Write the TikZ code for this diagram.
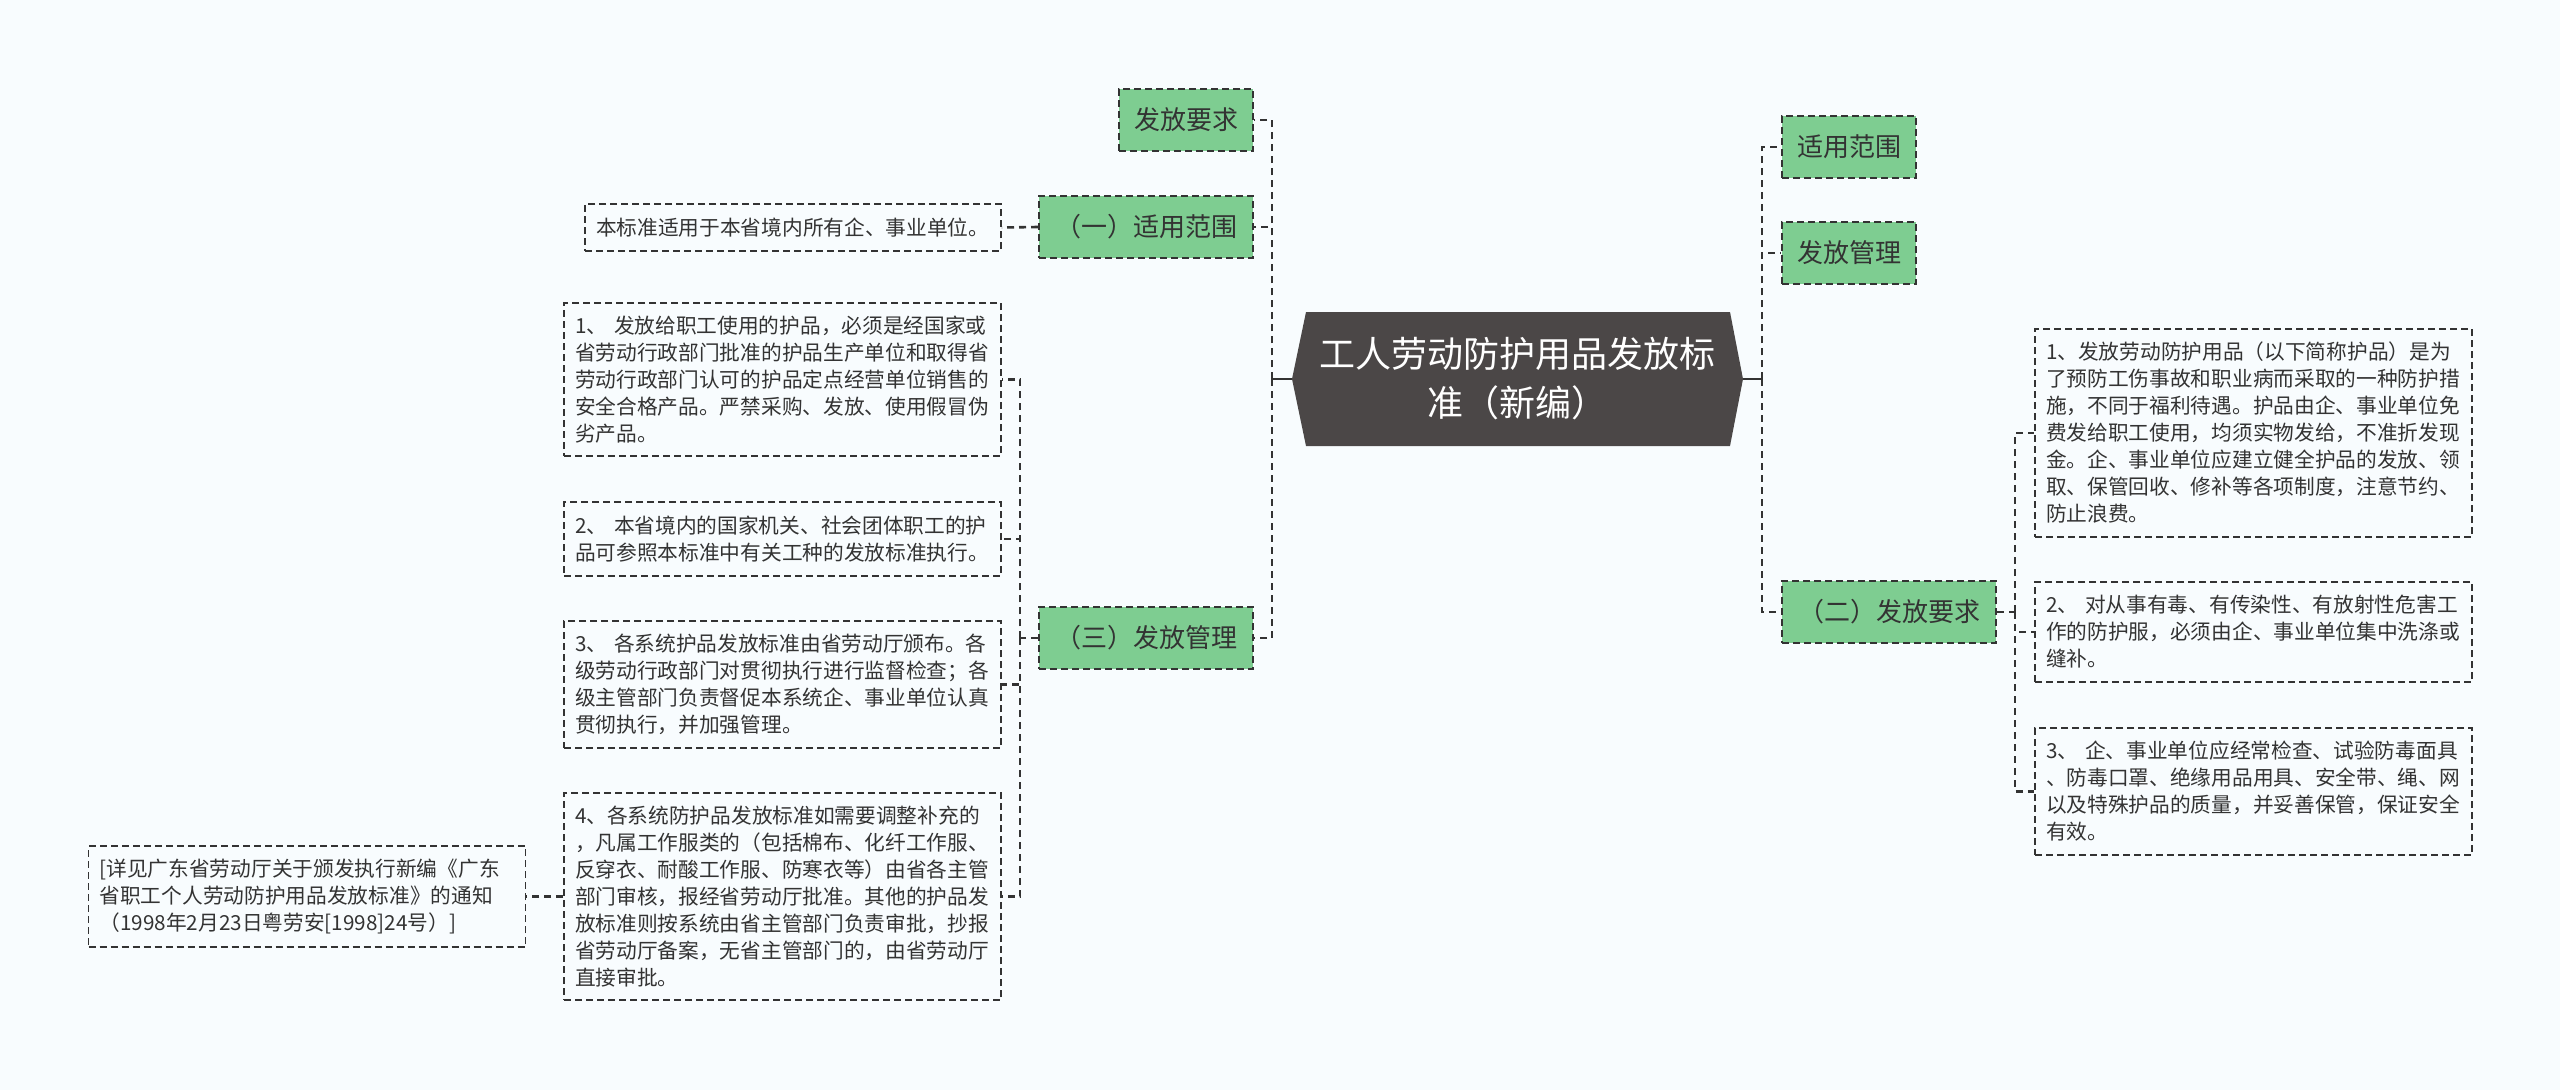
\documentclass[tikz,border=0pt]{standalone}
\usepackage{fontspec}
\setmainfont{Noto Sans CJK SC}
\definecolor{bgc}{RGB}{248,252,254}
\definecolor{linkc}{RGB}{51,51,51}
\definecolor{topicgreen}{RGB}{126,205,145}
\definecolor{rootc}{RGB}{75,71,71}
\tikzset{
  topic/.style={draw=linkc, dash pattern=on 7pt off 4pt, line width=2pt, fill=topicgreen,
    text=linkc, font=\fontsize{26}{30}\selectfont, minimum width=134pt,
    minimum height=62pt, inner sep=0pt},
  leaf/.style={draw=linkc, dash pattern=on 7pt off 4pt, line width=1.8pt, fill=bgc,
    text=linkc, font=\fontsize{20.7}{27}\selectfont, align=left, text width=415pt,
    inner xsep=11pt, inner ysep=0pt},
  link/.style={draw=linkc, dash pattern=on 7pt off 5pt, line width=2.6pt},
  trunk/.style={draw=linkc, line width=2.6pt},
  roottext/.style={text=white, font=\fontsize{36}{49}\selectfont, align=center,
    minimum width=451pt, minimum height=134pt, inner sep=0pt}
}
\begin{document}
\begin{tikzpicture}[x=1pt,y=-1pt]
\fill[bgc] (0,0) rectangle (2560,1090);
\useasboundingbox (0,0) rectangle (2560,1090);

\fill[rootc] (1306,312) -- (1292,379) -- (1306,446) -- (1730,446) -- (1743,379) -- (1730,312) -- cycle;
\node[roottext] (root) at (1517.5,379) {工人劳动防护用品发放标\\准（新编）};

\coordinate (lbus) at (1272,379);
\coordinate (rbus) at (1762,379);
\coordinate (mbus) at (1020,638);
\coordinate (rqbus) at (2015,612);

\node[topic] (lreq) at (1186,120) {发放要求};
\node[topic, minimum width=214pt] (lscope) at (1146,227) {（一）适用范围};
\node[topic, minimum width=214pt] (lmanage) at (1146,638) {（三）发放管理};

\node[leaf, text width=394pt, minimum height=47pt] (scopeleaf) at (793,227.5) {本标准适用于本省境内所有企、事业单位。};
\node[leaf, minimum height=153pt] (mleaf1) at (782.5,379.5) {1、 发放给职工使用的护品，必须是经国家或\\省劳动行政部门批准的护品生产单位和取得省\\劳动行政部门认可的护品定点经营单位销售的\\安全合格产品。严禁采购、发放、使用假冒伪\\劣产品。};
\node[leaf, minimum height=74pt] (mleaf2) at (782.5,539) {2、 本省境内的国家机关、社会团体职工的护\\品可参照本标准中有关工种的发放标准执行。};
\node[leaf, minimum height=127pt] (mleaf3) at (782.5,684.5) {3、 各系统护品发放标准由省劳动厅颁布。各\\级劳动行政部门对贯彻执行进行监督检查；各\\级主管部门负责督促本系统企、事业单位认真\\贯彻执行，并加强管理。};
\node[leaf, minimum height=207pt] (mleaf4) at (782.5,896.5) {4、各系统防护品发放标准如需要调整补充的\\，凡属工作服类的（包括棉布、化纤工作服、\\反穿衣、耐酸工作服、防寒衣等）由省各主管\\部门审核，报经省劳动厅批准。其他的护品发\\放标准则按系统由省主管部门负责审批，抄报\\省劳动厅备案，无省主管部门的，由省劳动厅\\直接审批。};
\node[leaf, minimum height=101pt] (note) at (307,896.5) {[详见广东省劳动厅关于颁发执行新编《广东\\省职工个人劳动防护用品发放标准》的通知\\（1998年2月23日粤劳安[1998]24号）]};

\node[topic] (rscope) at (1849,147) {适用范围};
\node[topic] (rmanage) at (1849,253) {发放管理};
\node[topic, minimum width=214pt] (rreq) at (1889,612) {（二）发放要求};

\node[leaf, minimum height=208pt] (rleaf1) at (2253.5,433) {1、发放劳动防护用品（以下简称护品）是为\\了预防工伤事故和职业病而采取的一种防护措\\施，不同于福利待遇。护品由企、事业单位免\\费发给职工使用，均须实物发给，不准折发现\\金。企、事业单位应建立健全护品的发放、领\\取、保管回收、修补等各项制度，注意节约、\\防止浪费。};
\node[leaf, minimum height=100pt] (rleaf2) at (2253.5,632) {2、 对从事有毒、有传染性、有放射性危害工\\作的防护服，必须由企、事业单位集中洗涤或\\缝补。};
\node[leaf, minimum height=127pt] (rleaf3) at (2253.5,791.5) {3、 企、事业单位应经常检查、试验防毒面具\\、防毒口罩、绝缘用品用具、安全带、绳、网\\以及特殊护品的质量，并妥善保管，保证安全\\有效。};

\draw[trunk] (root.west) -- (lbus);
\draw[link] (lbus) |- (lreq.east);
\draw[link] (lbus) |- (lscope.east);
\draw[link] (lbus) |- (lmanage.east);
\draw[link] (lscope.west) -- (scopeleaf.east);
\draw[link] (lmanage.west) -- (mbus);
\draw[link] (mbus) |- (mleaf1.east);
\draw[link] (mbus) |- (mleaf2.east);
\draw[link] (mbus) |- (mleaf3.east);
\draw[link] (mbus) |- (mleaf4.east);
\draw[link] (mleaf4.west) -- (note.east);

\draw[trunk] (root.east) -- (rbus);
\draw[link] (rbus) |- (rscope.west);
\draw[link] (rbus) |- (rmanage.west);
\draw[link] (rbus) |- (rreq.west);
\draw[link] (rreq.east) -- (rqbus);
\draw[link] (rqbus) |- (rleaf1.west);
\draw[link] (rqbus) |- (rleaf2.west);
\draw[link] (rqbus) |- (rleaf3.west);
\end{tikzpicture}
\end{document}
